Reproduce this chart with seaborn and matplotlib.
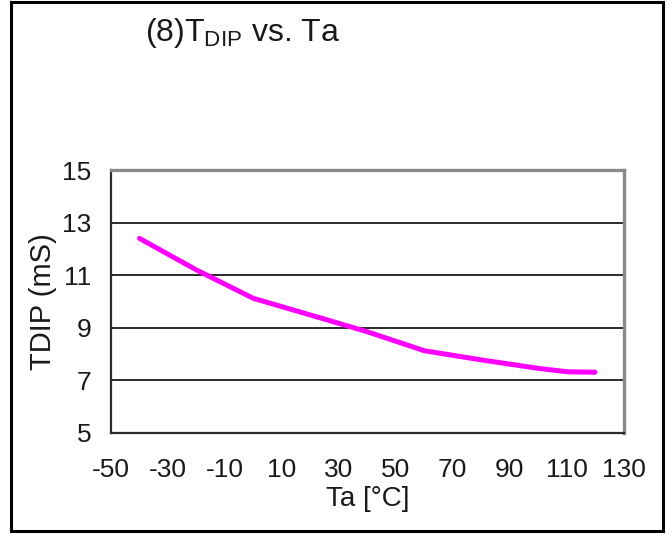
import matplotlib
matplotlib.use("Agg")
import matplotlib.pyplot as plt
import matplotlib.patches as patches
import pandas as pd
import seaborn as sns

# data
ta = [-40, -20, 0, 25, 40, 60, 80, 100, 110, 120]
tdip = [12.40, 11.20, 10.12, 9.33, 8.85, 8.13, 7.78, 7.46, 7.33, 7.31]
x_ticks = [-50, -30, -10, 10, 30, 50, 70, 90, 110, 130]
y_ticks = [5, 7, 9, 11, 13, 15]

sns.set_style("white")
plt.rcParams['font.family'] = ['Liberation Sans', 'DejaVu Sans']
plt.rcParams['mathtext.fontset'] = 'custom'
plt.rcParams['mathtext.rm'] = 'Liberation Sans'
plt.rcParams['axes.unicode_minus'] = False

df = pd.DataFrame({'Ta': ta, 'TDIP': tdip})

fig = plt.figure(figsize=(6.72, 5.36), dpi=100)
W, H = 672, 536
ax = fig.add_axes([111 / W, 1 - 433 / H, (623.5 - 111) / W, (433 - 170) / H])

sns.lineplot(data=df, x='Ta', y='TDIP', ax=ax, color='#FF00FF', linewidth=3.6,
             solid_joinstyle='round', solid_capstyle='round', zorder=3)

ax.set_xlim(-50, 130)
ax.set_ylim(5, 15)
ax.set_xticks(x_ticks)
ax.set_yticks(y_ticks)

# horizontal grid lines only
for v in y_ticks[1:-1]:
    ax.axhline(v, color='#2b2b2b', linewidth=1.4, zorder=1)

for side in ['left', 'bottom']:
    ax.spines[side].set_color('#2b2b2b')
    ax.spines[side].set_linewidth(1.6)
for side in ['top', 'right']:
    ax.spines[side].set_visible(True)
    ax.spines[side].set_color('#8a8a8a')
    ax.spines[side].set_linewidth(2.4)

ax.tick_params(axis='x', direction='in', length=6, width=1.5, color='#2b2b2b',
               pad=18, labelsize=19)
ax.tick_params(axis='y', length=0, pad=14, labelsize=19)
for lab in ax.get_xticklabels() + ax.get_yticklabels():
    lab.set_color('#1a1a1a')

ax.set_xlabel('Ta [°C]', fontsize=20, labelpad=3, color='#1a1a1a')
ax.set_ylabel('TDIP (mS)', fontsize=21, labelpad=4, color='#1a1a1a')

fig.text(145 / W, 1 - 41 / H, r'(8)T$_\mathregular{DIP}$ vs. Ta', fontsize=23,
         va='baseline', ha='left', color='#1a1a1a')

# outer frame
fig.patches.append(patches.Rectangle((10.5 / W, 1 - 531 / H), (663 - 10.5) / W, (531 - 1.5) / H,
                                     transform=fig.transFigure, fill=False,
                                     edgecolor='black', linewidth=2.2))

fig.savefig('out.png', dpi=100)
